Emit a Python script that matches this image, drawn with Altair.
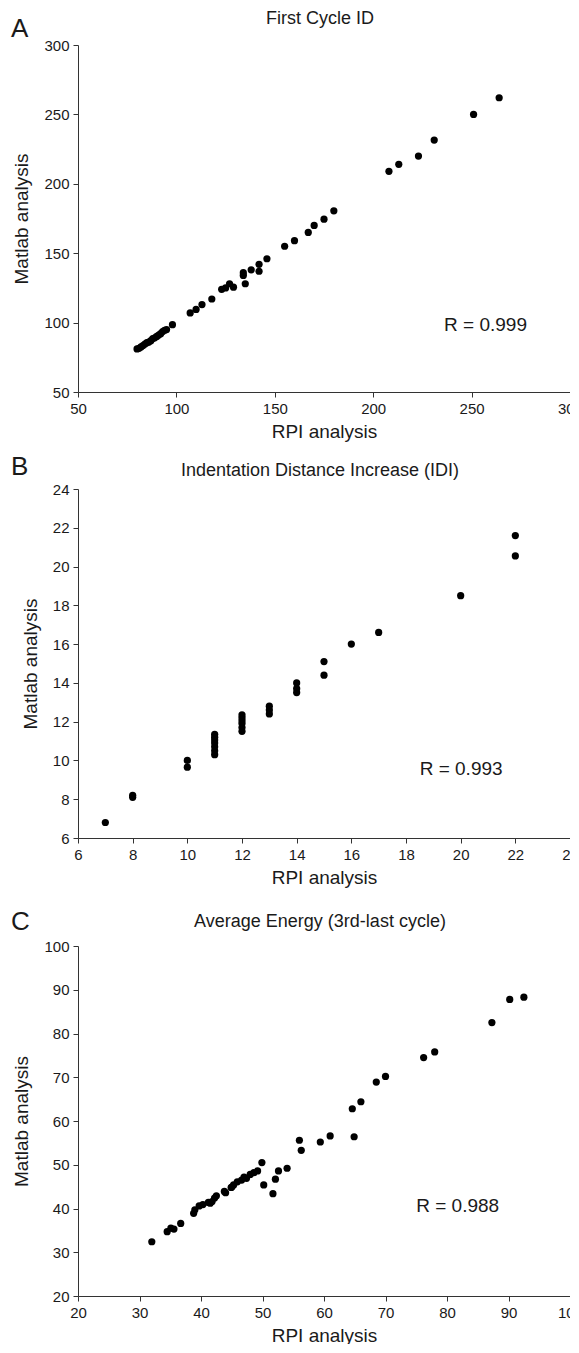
import altair as alt
import pandas as pd

FONT = "Liberation Sans"
TXT = "#1a1a1a"
AX = "#333333"

# ---------------- Panel A: First Cycle ID ----------------
a_rpi = [80, 81, 82, 83, 84, 85, 86, 87, 88, 89, 90, 91, 92, 93, 94, 95, 98,
         107, 110, 113, 118, 123, 125, 127, 129, 134, 134, 135, 138, 142, 142,
         146, 155, 160, 167, 170, 175, 180, 208, 213, 223, 231, 251, 264]
a_matlab = [81, 81.5, 82.5, 83.5, 84.5, 85.5, 86, 87, 88.5, 89, 90, 91, 92, 93.5,
            94.5, 95, 98.5, 107, 109.5, 113, 117, 124, 125, 128, 125.5, 134, 136,
            128, 138, 142, 137, 146, 155, 159, 165, 170, 174.5, 180.5, 209, 214,
            220, 231.5, 250, 262]
a_xticks = [50, 100, 150, 200, 250, 300]
a_yticks = [50, 100, 150, 200, 250, 300]

# ---------------- Panel B: IDI ----------------
b_rpi = [7, 8, 8, 10, 10, 11, 11, 11, 11, 11, 11, 11, 12, 12, 12, 12, 12, 12,
         13, 13, 13, 14, 14, 14, 15, 15, 16, 17, 20, 22, 22]
b_matlab = [6.8, 8.1, 8.2, 10.0, 9.65, 10.3, 10.5, 10.7, 10.9, 11.05, 11.2, 11.35,
            11.5, 11.7, 11.9, 12.05, 12.2, 12.35, 12.4, 12.6, 12.8, 13.5, 13.7,
            14.0, 14.4, 15.1, 16.0, 16.6, 18.5, 20.55, 21.6]
b_xticks = [6, 8, 10, 12, 14, 16, 18, 20, 22, 24]
b_yticks = [6, 8, 10, 12, 14, 16, 18, 20, 22, 24]

# ---------------- Panel C: Average Energy ----------------
c_rpi = [32, 34.5, 35.1, 35.6, 36.7, 38.8, 39, 39.7, 40.3, 41.2, 41.5, 41.8, 42.2,
         42.5, 43.8, 44, 44.9, 45, 45.3, 45.9, 46.6, 47, 47.4, 48, 48.6, 49.2,
         49.9, 50.2, 51.7, 52.1, 52.6, 54, 56, 56.3, 59.4, 61, 64.9, 64.6, 66,
         68.5, 70, 76.2, 78, 87.3, 90.2, 92.5]
c_matlab = [32.4, 34.7, 35.5, 35.3, 36.6, 38.9, 39.7, 40.6, 40.9, 41.4, 41.2, 41.6,
            42.4, 42.9, 43.9, 43.6, 44.8, 44.9, 45.4, 46.1, 46.5, 47.2, 46.9, 47.8,
            48.2, 48.6, 50.5, 45.4, 43.4, 46.7, 48.6, 49.2, 55.6, 53.3, 55.2, 56.6,
            56.4, 62.8, 64.4, 68.9, 70.2, 74.5, 75.8, 82.5, 87.8, 88.3]
c_xticks = [20, 30, 40, 50, 60, 70, 80, 90, 100]
c_yticks = [20, 30, 40, 50, 60, 70, 80, 90, 100]

PLOT_W = 492


def panel(xs, ys, xticks, yticks, title, letter, r_text, r_x, r_y,
          height, title_y, letter_y, top_space=None):
    df = pd.DataFrame({"x": xs, "y": ys})
    xenc = alt.X("x:Q",
                 scale=alt.Scale(domain=[xticks[0], xticks[-1]], nice=False, zero=False),
                 axis=alt.Axis(values=xticks, title="RPI analysis", labelFlush=False,
                               labelPadding=4, titlePadding=6))
    yenc = alt.Y("y:Q",
                 scale=alt.Scale(domain=[yticks[0], yticks[-1]], nice=False, zero=False),
                 axis=alt.Axis(values=yticks, title="Matlab analysis", labelFlush=False,
                               labelPadding=4, titlePadding=12))
    pts = alt.Chart(df).mark_circle(size=52, color="black", opacity=1).encode(x=xenc, y=yenc)

    rdf = pd.DataFrame({"x": [r_x], "y": [r_y], "t": [r_text]})
    rtxt = alt.Chart(rdf).mark_text(align="left", baseline="middle", fontSize=19,
                                    font=FONT, color=TXT).encode(x=xenc, y=yenc, text="t:N")

    tdf = pd.DataFrame({"t": [title]})
    ttl = alt.Chart(tdf).mark_text(align="center", baseline="middle", fontSize=18,
                                   font=FONT, color=TXT).encode(
        x=alt.value(PLOT_W / 2 - 4), y=alt.value(title_y), text="t:N")

    ldf = pd.DataFrame({"t": [letter]})
    let = alt.Chart(ldf).mark_text(align="left", baseline="middle", fontSize=26,
                                   font=FONT, color=TXT).encode(
        x=alt.value(-67), y=alt.value(letter_y), text="t:N")

    layers = [pts, rtxt, ttl, let]
    if top_space is not None:
        # blank text that only reserves vertical room above the panel
        sdf = pd.DataFrame({"t": [" "]})
        layers.append(alt.Chart(sdf).mark_text(baseline="top", fontSize=10,
                                               font=FONT, color="white").encode(
            x=alt.value(0), y=alt.value(top_space), text="t:N"))

    return alt.layer(*layers).properties(width=PLOT_W, height=height)


pa = panel(a_rpi, a_matlab, a_xticks, a_yticks, "First Cycle ID", "A",
           "R = 0.999", 236, 98, 347, -26, -16, top_space=-37)
pb = panel(b_rpi, b_matlab, b_xticks, b_yticks,
           "Indentation Distance Increase (IDI)", "B",
           "R = 0.993", 18.5, 9.56, 349, -18, -22)
pc = panel(c_rpi, c_matlab, c_xticks, c_yticks,
           "Average Energy (3rd-last cycle)", "C",
           "R = 0.988", 75, 40.5, 350, -24, -24, top_space=-46)

# negative right padding lets the figure edge cut the last x tick label,
# as in the original figure
chart = alt.vconcat(pa, pb, pc, spacing=13).properties(
    padding={"left": 3, "top": 0, "right": -13, "bottom": -1},
    background="white",
).configure_view(stroke=None).configure_axis(
    grid=False,
    domainColor=AX,
    tickColor=AX,
    tickSize=5,
    labelFont=FONT,
    labelFontSize=15,
    labelColor=TXT,
    titleFont=FONT,
    titleFontSize=19,
    titleFontWeight="normal",
    titleColor=TXT,
    labelOverlap=False,
)

chart.save("out.html", embed_options={"renderer": "svg", "actions": False})
